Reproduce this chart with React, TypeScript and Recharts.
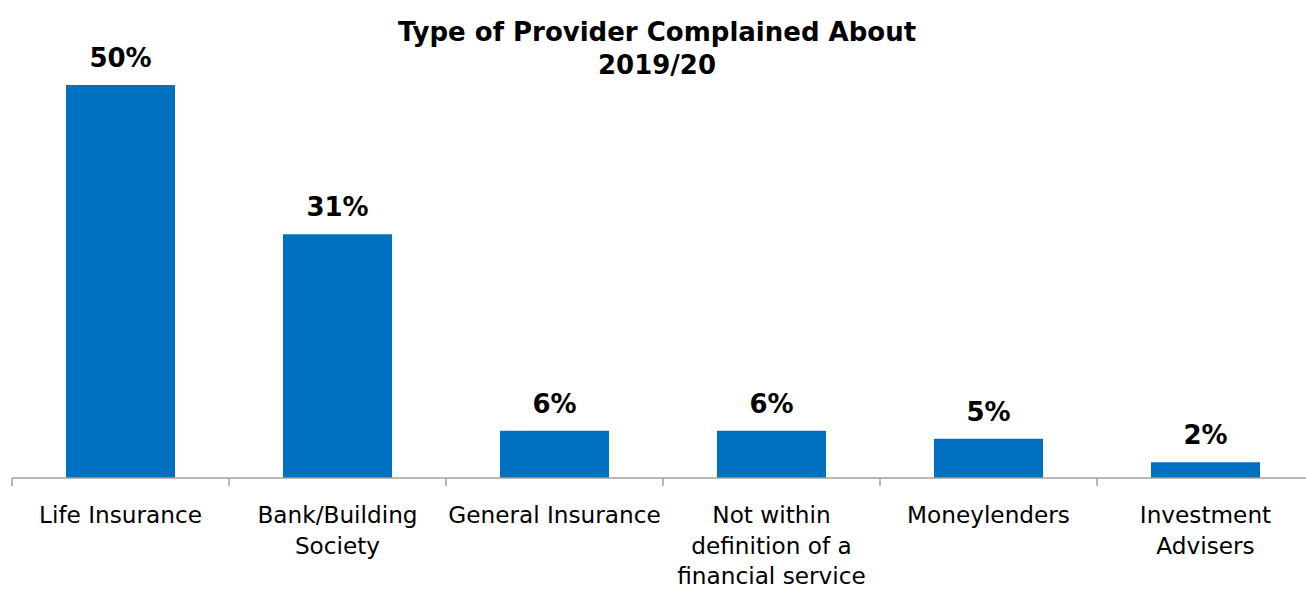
import React from 'react';
import { BarChart, Bar, XAxis, YAxis, LabelList } from 'recharts';

const categories = [
  'Life Insurance',
  'Bank/Building Society',
  'General Insurance',
  'Not within definition of a financial service',
  'Moneylenders',
  'Investment Advisers',
];
const tickLines = [
  ['Life Insurance'],
  ['Bank/Building', 'Society'],
  ['General Insurance'],
  ['Not within', 'definition of a', 'financial service'],
  ['Moneylenders'],
  ['Investment', 'Advisers'],
];
const shares = [50, 31, 6, 6, 5, 2];

const data = categories.map((name, i) => ({ name, share: shares[i] }));

const FONT = '"DejaVu Sans", Verdana, sans-serif';
const CHART_W = 1320;
const MARGIN = { top: 85, right: 6, left: 12, bottom: 12 };
const STEP = (CHART_W - MARGIN.left - MARGIN.right) / categories.length;

function CategoryTick(props: any) {
  const { x, y, index } = props;
  const lines = tickLines[index] || [];
  const axisY = y - 8;
  return (
    <g>
      <line x1={x - STEP / 2} x2={x - STEP / 2} y1={axisY} y2={axisY + 8} stroke="#a0a0a0" strokeWidth={1.5} />
      {index === categories.length - 1 && (
        <line x1={x + STEP / 2} x2={x + STEP / 2} y1={axisY} y2={axisY + 8} stroke="#a0a0a0" strokeWidth={1.5} />
      )}
      <text x={x} y={y} textAnchor="middle" fontFamily={FONT} fontSize={23.2} fill="#000">
        {lines.map((l, i) => (
          <tspan key={i} x={x} dy={i === 0 ? 37 : 30.5}>
            {l}
          </tspan>
        ))}
      </text>
    </g>
  );
}

export default function App() {
  return (
    <div
      style={{
        position: 'absolute',
        left: 0,
        top: 0,
        width: 1306,
        height: 590,
        overflow: 'hidden',
        background: '#fff',
      }}
    >
      <div
        style={{
          position: 'absolute',
          left: 157,
          top: 16,
          width: 1000,
          textAlign: 'center',
          fontFamily: FONT,
          fontWeight: 'bold',
          fontSize: 26,
          lineHeight: '33px',
          color: '#000',
        }}
      >
        Type of Provider Complained About
        <br />
        2019/20
      </div>
      <BarChart width={CHART_W} height={590} data={data} margin={MARGIN}>
        <XAxis
          dataKey="name"
          interval={0}
          height={100}
          tickSize={8}
          tickMargin={0}
          tickLine={false}
          axisLine={{ stroke: '#a0a0a0', strokeWidth: 1.5 }}
          tick={<CategoryTick />}
        />
        <YAxis hide domain={[0, 50]} />
        <Bar dataKey="share" fill="#0070C0" barSize={109} isAnimationActive={false}>
          <LabelList
            dataKey="share"
            position="top"
            offset={18}
            formatter={(v: any) => `${v}%`}
            style={{ fontFamily: FONT, fontWeight: 'bold', fontSize: 26, fill: '#000' }}
          />
        </Bar>
      </BarChart>
    </div>
  );
}
